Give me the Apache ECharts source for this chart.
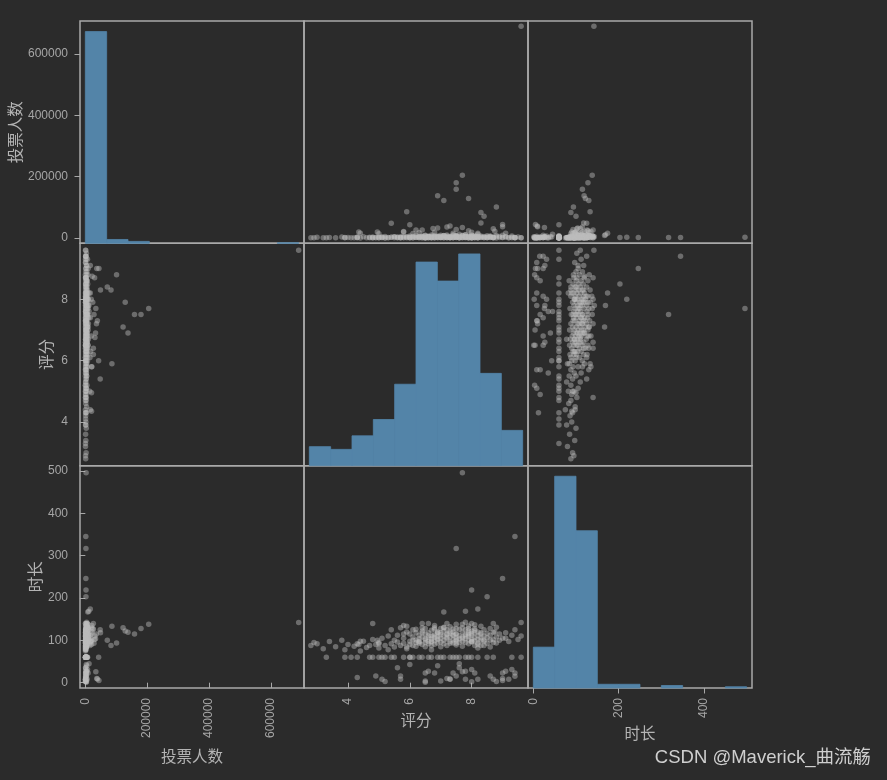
<!DOCTYPE html>
<html><head><meta charset="utf-8">
<script src="https://cdn.jsdelivr.net/npm/echarts@6/dist/echarts.min.js"></script>
<style>html,body{margin:0;padding:0;background:#2b2b2b;}#c{width:887px;height:780px;}</style>
</head><body><div id="c"></div>
<script>
// ---- data ----
const columns = ['投票人数', '评分', '时长'];
// histogram data ranges (min, max of each column) and bin counts (10 bins)
const votesHistRange = [0, 690000];
const ratingHistRange = [2.75, 9.65];
const durationHistRange = [0, 500];
const votesCounts = [330, 6, 3, 0, 0, 0, 0, 0, 0, 1];
const ratingCounts = [7, 6, 11, 17, 30, 75, 68, 78, 34, 13];
const durationCounts = [33, 171, 127, 3, 3, 0, 2, 0, 0, 1];
// tick labels
const votesTicks = [0, 200000, 400000, 600000];
const ratingTicks = [4, 6, 8];
const durationTicksY = [0, 100, 200, 300, 400, 500];
const durationTicksX = [0, 200, 400];
// points: [votes, rating, duration]
const topVoted = [
  [690000, 9.6, 142], [205000, 7.7, 138], [180000, 7.5, 128], [159000, 7.5, 115],
  [138000, 6.9, 119], [129000, 7.9, 122], [122000, 7.1, 130], [101000, 8.8, 94],
  [86000, 5.9, 133], [83000, 8.3, 88], [71000, 8.4, 100], [49000, 8.3, 118],
  [48000, 5.4, 125], [43000, 6.0, 60], [44000, 9.0, 5], [37000, 9.0, 10],
  [39000, 7.3, 9], [34000, 7.7, 26]
];
const midVoted = [
  [16000, 9.1, 105], [22000, 8.75, 120], [19000, 8.0, 98], [16000, 7.4, 112],
  [19000, 6.8, 130], [17000, 6.3, 96], [15000, 6.1, 88], [21000, 5.8, 135],
  [14000, 5.0, 92], [16000, 4.4, 98], [26000, 6.2, 126], [26000, 6.4, 140],
  [31000, 6.75, 110], [33000, 6.9, 104], [36000, 7.2, 115], [30000, 8.7, 102],
  [24000, 7.9, 128], [28000, 7.5, 93], [20000, 4.35, 90], [20000, 4.95, 100],
  [20000, 5.8, 115], [12000, 7.6, 45]
];
const longRuns = [
  [16000, 8.2, 174], [11000, 7.8, 169], [8000, 7.1, 167], [2000, 8.5, 203],
  [2200, 8.0, 219], [1800, 9.0, 246], [2000, 7.5, 317], [1500, 9.4, 345],
  [2500, 7.7, 496], [700, 4.8, 140]
];
const shortRuns = [
  [1200, 4.9, 16], [800, 5.6, 35], [2000, 5.7, 16], [600, 5.7, 8], [3000, 6.0, 43],
  [1500, 6.5, 23], [400, 6.5, 4], [5000, 6.6, 27], [900, 6.8, 23], [2500, 7.0, 4],
  [700, 7.3, 8], [1800, 7.4, 23], [3500, 7.5, 16], [1000, 7.6, 35], [6000, 7.8, 8],
  [2200, 7.8, 27], [1300, 8.0, 31], [4000, 8.1, 23], [800, 8.2, 8], [2700, 8.6, 16],
  [1500, 8.7, 8], [9000, 9.0, 23], [3300, 9.1, 27], [600, 9.2, 8], [7000, 9.3, 31],
  [2000, 9.4, 23], [1100, 9.4, 15], [500, 8.8, 3], [3800, 8.0, 2], [1400, 7.2, 10],
  [2900, 6.5, 1], [700, 5.2, 3], [1600, 5.1, 8], [900, 4.3, 12], [4500, 6.9, 40]
];
const hourLong = [
  [600, 3.3, 60], [1500, 3.9, 60], [900, 4.1, 60], [2400, 4.3, 60], [700, 4.7, 60],
  [3100, 4.8, 60], [1200, 5.0, 60], [500, 5.2, 60], [4200, 5.5, 60], [1800, 5.8, 60],
  [800, 6.1, 60], [2600, 6.3, 60], [5400, 6.4, 60], [1100, 6.7, 60], [3800, 6.9, 60],
  [700, 7.1, 60], [2000, 7.3, 60], [6500, 7.5, 60], [1400, 7.6, 60], [3300, 7.8, 60],
  [900, 7.9, 60], [4700, 8.2, 60], [1700, 8.5, 60], [2900, 8.7, 60], [600, 9.3, 60],
  [1300, 9.6, 60], [2200, 5.4, 60], [3600, 5.1, 60], [1000, 6.0, 60], [2800, 7.0, 60],
  [7400, 7.4, 60], [4000, 6.6, 60], [500, 8.0, 60]
];
const lowRated = [
  [1200, 2.8, 88], [800, 2.9, 95], [2500, 3.0, 92], [600, 3.2, 80], [1500, 3.4, 97],
  [900, 3.6, 85], [3000, 3.8, 100], [700, 3.9, 78], [1800, 4.0, 90],
  [1100, 4.2, 86], [2200, 4.3, 92], [500, 4.4, 75], [4000, 4.5, 98], [1300, 4.6, 83],
  [2600, 4.7, 88], [800, 4.8, 102],
  [1500, 4.9, 90], [3200, 5.0, 95], [700, 5.0, 82], [2100, 5.1, 105], [5200, 5.2, 88],
  [900, 5.3, 78], [1600, 5.3, 110], [2800, 5.4, 92], [600, 5.5, 84], [4100, 5.5, 100],
  [2000, 5.6, 96], [3500, 5.6, 112], [800, 5.7, 88], [6000, 5.8, 105], [1200, 5.8, 93],
  [2500, 5.9, 120], [4500, 5.9, 84], [900, 6.0, 98], [7000, 6.0, 115], [1800, 6.0, 90],
  [3300, 6.1, 108], [600, 6.1, 125], [5100, 6.1, 100], [1400, 6.2, 95], [8200, 6.2, 118],
  [2700, 6.2, 86], [3900, 5.7, 130], [1000, 5.9, 80]
];
const midRated = [
  [1500, 6.3, 98], [4200, 6.3, 112], [900, 6.3, 104], [6500, 6.4, 122], [2300, 6.4, 90],
  [3100, 6.4, 108], [700, 6.5, 95], [5400, 6.5, 115], [1900, 6.5, 101], [8800, 6.5, 128],
  [2600, 6.6, 92], [4700, 6.6, 106], [1100, 6.6, 118], [3600, 6.6, 98], [6200, 6.7, 110],
  [1700, 6.7, 87], [2900, 6.7, 124], [9500, 6.7, 103], [800, 6.7, 96], [5000, 6.8, 113],
  [2100, 6.8, 99], [3800, 6.8, 135], [1300, 6.8, 107], [7200, 6.8, 91], [2400, 6.9, 116],
  [4400, 6.9, 102], [1000, 6.9, 94], [6700, 6.9, 120], [3300, 6.4, 130], [1200, 6.5, 85],
  [5800, 6.6, 140], [2000, 6.7, 78], [4000, 6.3, 93], [700, 6.6, 111], [3000, 6.8, 126],
  [1600, 6.9, 109], [8000, 6.5, 104], [2700, 6.2, 101], [500, 6.4, 118], [4900, 6.7, 97],
  [1800, 7.0, 105], [5500, 7.0, 118], [900, 7.0, 96], [3400, 7.0, 128], [7600, 7.1, 110],
  [2200, 7.1, 100], [4100, 7.1, 92], [1300, 7.1, 122], [6300, 7.2, 114], [2900, 7.2, 103],
  [800, 7.2, 88], [9900, 7.2, 125], [3700, 7.3, 108], [1500, 7.3, 117], [5200, 7.3, 97],
  [2500, 7.3, 132], [11000, 7.4, 112], [1900, 7.4, 101], [4600, 7.4, 94], [700, 7.4, 120],
  [3100, 7.5, 106], [6800, 7.5, 115], [1400, 7.5, 99], [8500, 7.5, 138], [2300, 7.5, 89],
  [4300, 7.6, 111], [1100, 7.6, 104], [5900, 7.6, 126], [2700, 7.0, 85], [3900, 7.2, 140],
  [600, 7.3, 93], [7300, 7.1, 131], [2000, 7.4, 127], [4800, 7.5, 102], [1000, 7.6, 95],
  [3500, 7.3, 121], [9000, 7.0, 113], [1700, 7.2, 107]
];
const highRated = [
  [2100, 7.7, 108], [5600, 7.7, 119], [1200, 7.7, 98], [7900, 7.7, 130], [3300, 7.8, 104],
  [800, 7.8, 114], [4700, 7.8, 95], [10500, 7.8, 125], [2600, 7.8, 110], [1600, 7.9, 101],
  [6100, 7.9, 117], [3800, 7.9, 92], [900, 7.9, 134], [8700, 8.0, 112], [2400, 8.0, 103],
  [4500, 8.0, 122], [1300, 8.0, 96], [5300, 8.0, 140], [3100, 8.1, 107], [700, 8.1, 99],
  [7100, 8.1, 118], [1900, 8.1, 88], [4000, 8.1, 128], [2800, 8.2, 111], [12000, 8.2, 102],
  [1100, 8.2, 120], [5800, 8.2, 94], [3500, 8.3, 115], [1500, 8.3, 106], [6600, 8.3, 133],
  [2200, 7.7, 86], [4300, 7.8, 143], [600, 7.9, 109], [9300, 8.0, 97], [1700, 8.1, 124],
  [3700, 8.2, 90], [2500, 8.3, 100], [5000, 7.9, 113], [1400, 8.0, 116], [8100, 7.7, 105],
  [3000, 8.1, 137], [1000, 8.2, 82],
  [2300, 8.4, 110], [5400, 8.4, 98], [1200, 8.4, 125], [7600, 8.5, 106], [3100, 8.5, 117],
  [900, 8.5, 93], [4600, 8.6, 112], [1800, 8.6, 128], [6300, 8.6, 101], [2700, 8.7, 95],
  [1000, 8.7, 119], [3900, 8.8, 108], [8200, 8.8, 131], [1500, 8.9, 100], [4800, 8.9, 115],
  [2100, 8.4, 88], [600, 8.7, 140], [3300, 8.6, 84],
  [1700, 9.0, 105], [4200, 9.1, 118], [900, 9.2, 97], [2600, 9.3, 112], [1300, 9.4, 125],
  [3500, 9.5, 102], [700, 9.6, 110]
];

// ---- build chart ----
const points = [].concat(topVoted, midVoted, longRuns, shortRuns, hourLong, lowRated, midRated, highRated);
const histRanges = [votesHistRange, ratingHistRange, durationHistRange];
const histCounts = [votesCounts, ratingCounts, durationCounts];
const bounds = histRanges.map(r => { const e = (r[1] - r[0]) * 0.025; return [r[0] - e, r[1] + e]; });
const xTicks = [votesTicks, ratingTicks, durationTicksX];
const yTicks = [votesTicks, ratingTicks, durationTicksY];
const leftNameGap = [57, 26, 37];
const bottomNameGap = [60, 24, 37];

const L = 80, T = 21, W = 224, H = 222.33;
const tickColor = '#a8a8a8';
const labelColor = '#a6a6a6';
const nameColor = '#b4b4b4';
const barColor = '#5384a8';
const fontTick = 'Liberation Sans, DejaVu Sans, sans-serif';
const fontName = 'Noto Sans CJK SC, sans-serif';

function valueAxisLabels(ticks) {
  return {
    axisTick: { show: true, length: 5.5, lineStyle: { color: tickColor, width: 1 }, customValues: ticks },
    axisLabel: { show: true, margin: 12, color: labelColor, fontSize: 12, fontFamily: fontTick,
      customValues: ticks, formatter: v => String(v) }
  };
}

const grid = [], xAxis = [], yAxis = [], series = [];
for (let i = 0; i < 9; i++) {
  const r = Math.floor(i / 3), c = i % 3;
  grid.push({ left: L + c * W, top: T + r * H, width: W, height: H, show: true,
    borderColor: '#a9a9a9', borderWidth: 1.5, backgroundColor: 'transparent' });
  const xa = { type: 'value', gridIndex: i, position: 'bottom', min: bounds[c][0], max: bounds[c][1],
    axisLine: { show: false }, splitLine: { show: false }, axisTick: { show: false }, axisLabel: { show: false } };
  if (r === 2) {
    Object.assign(xa, valueAxisLabels(xTicks[c]));
    xa.axisLabel.rotate = 90;
    xa.axisLabel.margin = 10;
    Object.assign(xa, { name: columns[c], nameLocation: 'middle', nameGap: bottomNameGap[c],
      nameTextStyle: { color: nameColor, fontSize: 15.5, fontFamily: fontName } });
  }
  xAxis.push(xa);
  if (r === c) {
    const mx = Math.max.apply(null, histCounts[c]) * 1.05;
    yAxis.push({ type: 'value', gridIndex: i, position: 'right', min: 0, max: mx, show: false, splitLine: { show: false } });
    const lo = histRanges[c][0], hi = histRanges[c][1], step = (hi - lo) / histCounts[c].length;
    const data = histCounts[c].map((n, k) => [lo + k * step, lo + (k + 1) * step, n]);
    series.push({
      type: 'custom', xAxisIndex: i, yAxisIndex: i, data: data, encode: { x: [0, 1], y: 2 },
      renderItem: (params, api) => {
        if (!api.value(2)) return null;
        const p0 = api.coord([api.value(0), api.value(2)]);
        const p1 = api.coord([api.value(1), 0]);
        return { type: 'rect', shape: { x: p0[0], y: p0[1], width: p1[0] - p0[0], height: p1[1] - p0[1] },
          style: { fill: barColor, stroke: barColor, lineWidth: 0.8 } };
      }
    });
  } else {
    const ya = { type: 'value', gridIndex: i, position: 'left', min: bounds[r][0], max: bounds[r][1],
      axisLine: { show: false }, splitLine: { show: false }, axisTick: { show: false }, axisLabel: { show: false } };
    if (c === 0) {
      Object.assign(ya, valueAxisLabels(yTicks[r]));
      Object.assign(ya, { name: columns[r], nameLocation: 'middle', nameGap: leftNameGap[r], nameRotate: 90,
        nameTextStyle: { color: nameColor, fontSize: 15.5, fontFamily: fontName } });
    }
    yAxis.push(ya);
    series.push({
      type: 'scatter', xAxisIndex: i, yAxisIndex: i, symbolSize: 5.5,
      itemStyle: { color: '#bdbdbd', opacity: 0.45 },
      data: points.map(p => [p[c], p[r]])
    });
  }
}
// label axis for top-left histogram (votes scale)
const topLeftAxis = { type: 'value', gridIndex: 0, position: 'left', min: bounds[0][0], max: bounds[0][1],
  axisLine: { show: false }, splitLine: { show: false } };
Object.assign(topLeftAxis, valueAxisLabels(yTicks[0]));
Object.assign(topLeftAxis, { name: columns[0], nameLocation: 'middle', nameGap: leftNameGap[0], nameRotate: 90,
  nameTextStyle: { color: nameColor, fontSize: 15.5, fontFamily: fontName } });
yAxis.push(topLeftAxis);

const chart = echarts.init(document.getElementById('c'), null, { renderer: 'canvas' });
chart.setOption({
  backgroundColor: '#2b2b2b',
  animation: false,
  grid: grid, xAxis: xAxis, yAxis: yAxis, series: series,
  graphic: [{
    type: 'text', right: 16, top: 749,
    style: { text: 'CSDN @Maverick_曲流觞', fill: '#cfcfcf', fontSize: 18.5,
      fontFamily: 'Liberation Sans, Noto Sans CJK SC, sans-serif' }
  }]
});
</script></body></html>
